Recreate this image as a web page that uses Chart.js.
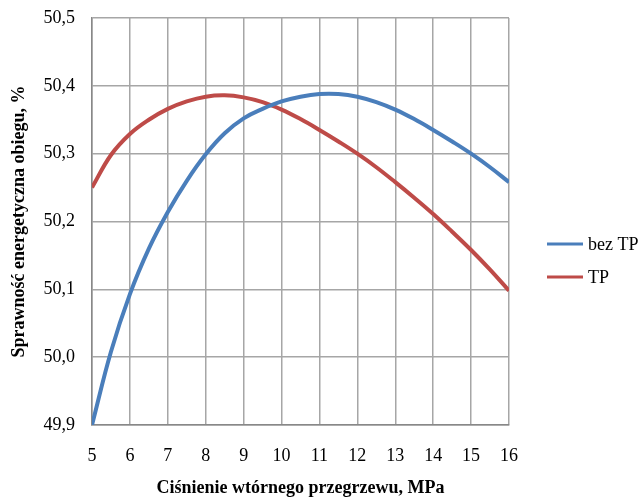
<!DOCTYPE html>
<html>
<head>
<meta charset="utf-8">
<script src="https://cdn.jsdelivr.net/npm/chart.js@4/dist/chart.umd.min.js"></script>
<style>
  html, body { margin: 0; padding: 0; background: #fff; }
  #wrap { width: 640px; height: 499px; position: relative; }
</style>
</head>
<body>
<div id="wrap"><canvas id="effChart"></canvas></div>
<script>
// Ciśnienie wtórnego przegrzewu [MPa]
const pressure = [5, 5.5, 6, 6.5, 7, 7.5, 8, 8.5, 9, 9.5, 10, 10.5, 11, 11.5, 12, 12.5, 13, 13.5, 14, 14.5, 15, 15.5, 16];
// Sprawność bez TP [%]
const bezTP = [49.900, 50.008, 50.093, 50.160, 50.214, 50.260, 50.299, 50.330, 50.352, 50.366, 50.377, 50.384,
               50.388, 50.388, 50.384, 50.376, 50.365, 50.351, 50.335, 50.318, 50.300, 50.280, 50.258];
// Sprawność z TP [%]
const withTP = [50.250, 50.298, 50.329, 50.350, 50.366, 50.377, 50.384, 50.386, 50.383, 50.376, 50.365, 50.351,
                50.335, 50.318, 50.300, 50.280, 50.258, 50.235, 50.211, 50.185, 50.158, 50.129, 50.098];
const seriesNames = ['bez TP', 'TP'];
const seriesColors = ['#4a7ebb', '#be4b48'];

const serif = '"Liberation Serif", "Times New Roman", serif';

// legend drawn on the right side, beside the plot
const sideLegend = {
    id: 'sideLegend',
    afterDraw(chart) {
        const ctx = chart.ctx;
        const x0 = chart.chartArea.right + 38;
        const rows = [244, 277];
        ctx.save();
        chart.data.datasets.forEach(function(ds, i) {
            ctx.strokeStyle = ds.borderColor;
            ctx.lineWidth = 3;
            ctx.beginPath();
            ctx.moveTo(x0, rows[i]);
            ctx.lineTo(x0 + 36, rows[i]);
            ctx.stroke();
            ctx.fillStyle = '#000';
            ctx.font = '18px ' + serif;
            ctx.textBaseline = 'middle';
            ctx.fillText(ds.label, x0 + 41, rows[i] + 1);
        });
        ctx.restore();
    }
};

const ctx = document.getElementById('effChart');
new Chart(ctx, {
    type: 'line',
    data: {
        datasets: [
            {
                label: seriesNames[0],
                data: pressure.map((p, i) => ({ x: p, y: bezTP[i] })),
                borderColor: seriesColors[0],
                borderWidth: 4,
                pointRadius: 0,
                tension: 0.4
            },
            {
                label: seriesNames[1],
                data: pressure.map((p, i) => ({ x: p, y: withTP[i] })),
                borderColor: seriesColors[1],
                borderWidth: 4,
                pointRadius: 0,
                tension: 0.4
            }
        ]
    },
    options: {
        responsive: true,
        maintainAspectRatio: false,
        animation: false,
        layout: {
            padding: { top: 18, right: 131, left: 9, bottom: 0 }
        },
        scales: {
            x: {
                type: 'linear',
                min: 5,
                max: 16,
                ticks: {
                    stepSize: 1,
                    color: '#000',
                    font: { family: serif, size: 18 },
                    padding: 20,
                    maxRotation: 0
                },
                grid: { color: '#a6a6a6', lineWidth: 1.5, drawTicks: false },
                border: { color: '#888', width: 1.5 },
                title: {
                    display: true,
                    text: 'Ciśnienie wtórnego przegrzewu, MPa',
                    color: '#000',
                    font: { family: serif, size: 18, weight: 'bold' },
                    padding: { top: 14, bottom: 0 }
                },
                afterFit(scale) { scale.height = 74; }
            },
            y: {
                min: 49.9,
                max: 50.5,
                ticks: {
                    stepSize: 0.1,
                    color: '#000',
                    font: { family: serif, size: 18 },
                    padding: 17,
                    callback: (v) => v.toFixed(1).replace('.', ',')
                },
                grid: { color: '#a6a6a6', lineWidth: 1.5, drawTicks: false },
                border: { color: '#888', width: 1.5 },
                title: {
                    display: true,
                    text: 'Sprawność energetyczna obiegu, %',
                    color: '#000',
                    font: { family: serif, size: 18, weight: 'bold' },
                    padding: { top: 0, bottom: 8 }
                },
                afterFit(scale) {
                    scale.width = 83;
                    // the top tick label may overhang the plot
                    scale.paddingTop = 0;
                    scale.paddingBottom = 0;
                }
            }
        },
        plugins: {
            legend: { display: false },
            tooltip: { enabled: false }
        }
    },
    plugins: [sideLegend]
});
</script>
</body>
</html>
